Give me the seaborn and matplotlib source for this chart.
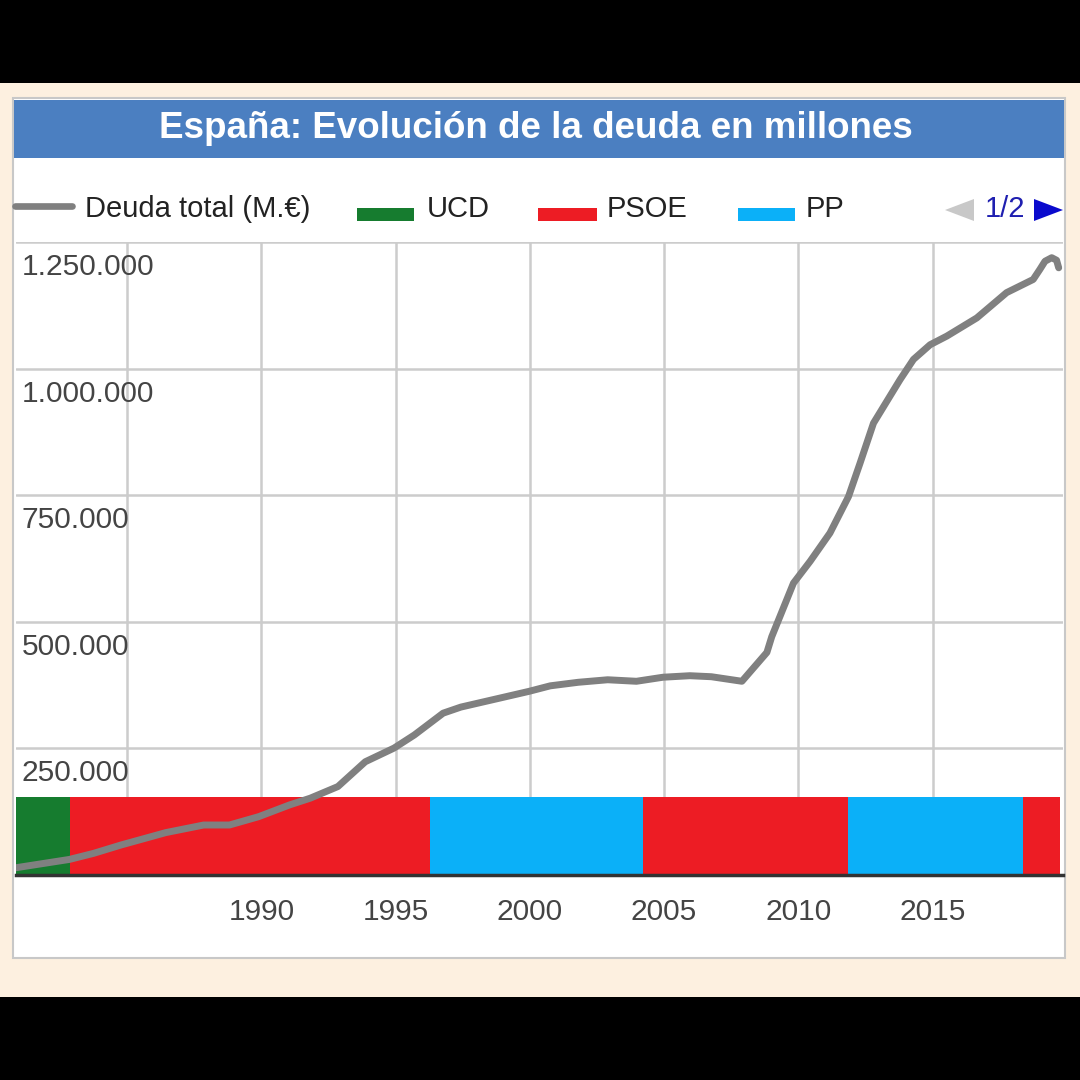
import numpy as np
import pandas as pd
import matplotlib.pyplot as plt
import seaborn as sns
from matplotlib.patches import Rectangle, Polygon
from matplotlib.lines import Line2D

# ----- Datos -----
years = [1980.85, 1982.85, 1983.75, 1984.77, 1986.44, 1987.85, 1988.81, 1989.9,
         1991.05, 1991.82, 1992.85, 1993.87, 1994.94, 1995.7, 1996.77, 1997.43,
         1998.9, 1999.96, 2000.76, 2001.8, 2002.9, 2003.97, 2004.96, 2005.96,
         2006.76, 2007.9, 2008.83, 2009.01, 2009.82, 2010.44, 2011.18, 2011.87,
         2012.3, 2012.8, 2013.79, 2014.29, 2014.91, 2015.53, 2016.65, 2017.76,
         2018.75, 2019.0, 2019.19, 2019.44, 2019.62, 2019.7]
deuda = [13500, 30000, 42000, 58500, 83000, 98000, 98000, 114500,
         137700, 151000, 174000, 223000, 250000, 276000, 319000, 331000,
         349000, 362000, 373000, 380000, 385000, 382000, 390000, 393000,
         391000, 382000, 439000, 470000, 576000, 619000, 675000, 747000,
         813000, 892000, 978000, 1018000, 1047000, 1064000, 1100000, 1150000,
         1176000, 1196000, 1212000, 1219000, 1214000, 1199000]

# periodos de gobierno
partidos = ["UCD", "PSOE", "PP", "PSOE", "PP", "PSOE"]
inicio = [1980.84, 1982.86, 1996.28, 2004.23, 2011.86, 2018.36]
fin = [1982.86, 1996.28, 2004.23, 2011.86, 2018.36, 2019.75]
altura_banda = 154000

colores = {"UCD": "#167C2F", "PSOE": "#ED1C24", "PP": "#0BB0F8"}

y_ticks = [250000, 500000, 750000, 1000000, 1250000]
y_labels = ["250.000", "500.000", "750.000", "1.000.000", "1.250.000"]
x_ticks = [1985, 1990, 1995, 2000, 2005, 2010, 2015]
x_labels = ["", "1990", "1995", "2000", "2005", "2010", "2015"]

df = pd.DataFrame({"anio": years, "deuda": deuda})

sns.set_style("white")
plt.rcParams["font.family"] = ["Liberation Sans", "DejaVu Sans"]

W = H = 1080
fig = plt.figure(figsize=(10.8, 10.8), dpi=100, facecolor="black")


def fx(x):
    return x / W


def fy(y):
    return 1 - y / H


# fondo crema y panel blanco
fig.patches.append(Rectangle((0, fy(997)), 1, (997 - 83) / H, transform=fig.transFigure,
                             facecolor="#FDF0E0", edgecolor="none", zorder=-10))
fig.patches.append(Rectangle((fx(13), fy(958)), (1065 - 13) / W, (958 - 98) / H,
                             transform=fig.transFigure, facecolor="white",
                             edgecolor="#C8C8C8", lw=1.5, zorder=-9))
fig.patches.append(Rectangle((fx(14), fy(158)), (1064 - 14) / W, (158 - 100) / H,
                             transform=fig.transFigure, facecolor="#4B7FC1",
                             edgecolor="none", zorder=-8))
fig.text(fx(536), fy(129), "España: Evolución de la deuda en millones", color="white",
         fontsize=26.5, fontweight="bold", ha="center", va="center")

# ----- Leyenda -----
ly = fy(209)
fig.add_artist(Line2D([fx(15), fx(72)], [fy(206), fy(206)], color="#808080", lw=4.8,
                      transform=fig.transFigure))
fig.text(fx(85), ly, "Deuda total (M.€)", fontsize=21, color="#222222", va="center")
for x0, x1, xt, nombre in [(357, 414, 427, "UCD"), (538, 597, 607, "PSOE"), (738, 795, 806, "PP")]:
    fig.patches.append(Rectangle((fx(x0), fy(221)), (x1 - x0) / W, 13 / H,
                                 transform=fig.transFigure, facecolor=colores[nombre],
                                 edgecolor="none"))
    fig.text(fx(xt), ly, nombre, fontsize=21, color="#222222", va="center")
fig.patches.append(Polygon([(fx(945), fy(210)), (fx(974), fy(199)), (fx(974), fy(221))],
                           closed=True, transform=fig.transFigure, facecolor="#C8C8C8",
                           edgecolor="none"))
fig.text(fx(1005), fy(209), "1/2", fontsize=21, color="#1F1FB0", ha="center", va="center")
fig.patches.append(Polygon([(fx(1034), fy(199)), (fx(1034), fy(221)), (fx(1063), fy(210))],
                           closed=True, transform=fig.transFigure, facecolor="#0A0ACD",
                           edgecolor="none"))

# ----- Grafico -----
ax = fig.add_axes([fx(15.5), fy(874.6), (1063 - 15.5) / W, (874.6 - 242) / H])
ax.set_facecolor("white")

for p, a, b in zip(partidos, inicio, fin):
    ax.bar(a, altura_banda, width=b - a, align="edge", color=colores[p],
           linewidth=0, zorder=2)

sns.lineplot(data=df, x="anio", y="deuda", color="#808080", linewidth=5,
             ax=ax, zorder=3)

ax.set_xlim(1980.84, 2019.86)
ax.set_ylim(0, 1250000)
ax.set_xticks(x_ticks)
ax.set_xticklabels(x_labels)
ax.set_yticks(y_ticks)
ax.set_yticklabels([])
ax.grid(True, color="#CCCCCC", linewidth=1.8, zorder=0)
ax.set_axisbelow(True)
ax.tick_params(axis="x", length=0, pad=17, labelsize=21.5, labelcolor="#444444")
ax.tick_params(axis="y", length=0)
ax.set_xlabel("")
ax.set_ylabel("")

for s in ["top", "left", "right"]:
    ax.spines[s].set_visible(False)
ax.spines["bottom"].set_color("#333333")
ax.spines["bottom"].set_linewidth(2.5)
ax.spines["bottom"].set_zorder(4)

for v, lab in zip(y_ticks, y_labels):
    ax.annotate(lab, xy=(0, v), xycoords=("axes fraction", "data"), xytext=(4.5, -8),
                textcoords="offset points", ha="left", va="top", fontsize=21.5,
                color="#444444", zorder=5)

fig.savefig("out.png", dpi=100, facecolor=fig.get_facecolor())
